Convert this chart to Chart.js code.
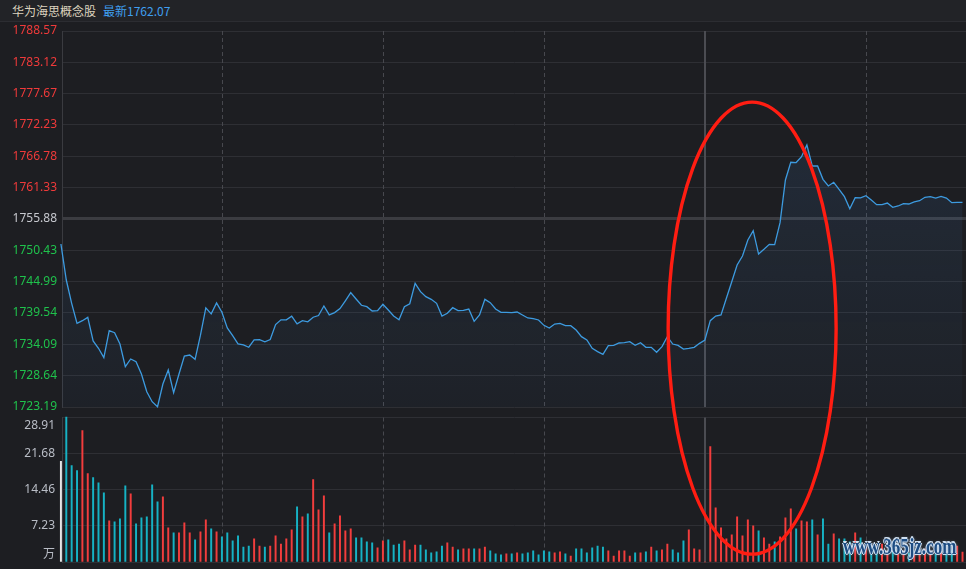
<!DOCTYPE html>
<html>
<head>
<meta charset="utf-8">
<script src="https://cdn.jsdelivr.net/npm/chart.js@4.4.0/dist/chart.umd.min.js"></script>
<style>
html,body{margin:0;padding:0;background:#1d1e22;width:966px;height:569px;overflow:hidden;}
#hdr{position:absolute;left:0;top:0;width:966px;height:21px;background:#222327;border-bottom:1px solid #2c2d32;font:12px "Noto Sans CJK SC","Noto Sans",sans-serif;line-height:22px;z-index:3;}
#hdr .t{position:absolute;left:12px;top:0;color:#ddd3bf;}
#hdr .n{position:absolute;left:103px;top:0;color:#3f9ff0;}
#pc{position:absolute;left:0;top:0;z-index:2;}
#vc{position:absolute;left:0;top:410px;z-index:1;}
#wm{position:absolute;left:843px;top:541px;z-index:4;font:bold 17px "Liberation Serif",serif;line-height:17px;color:#1d4c82;
  transform:scaleY(1.4);transform-origin:0 100%;white-space:nowrap;
  text-shadow:1px 0 0 #cfe0f2,-1px 0 0 #cfe0f2,0 1px 0 #cfe0f2,0 -1px 0 #cfe0f2,0 0 3px #b8d2ec;}
</style>
</head>
<body>
<div id="hdr"><span class="t">华为海思概念股</span><span class="n">最新1762.07</span></div>
<canvas id="vc" width="966" height="159"></canvas>
<canvas id="pc" width="966" height="569"></canvas>
<div id="wm">www.365jz.com</div>
<script>
// ---- data (one entry per minute from 9:30) ----
const preClose = 1755.88;
const priceTicks = [1788.57,1783.12,1777.67,1772.23,1766.78,1761.33,1755.88,1750.43,1744.99,1739.54,1734.09,1728.64,1723.19];
const volTicks = [0,7.23,14.46,21.68,28.91];
const volTickLabels = ['万','7.23','14.46','21.68','28.91'];
const minuteGrid = [30,60,90,150];
const middayMinute = 120;

const prices = [
1751.53,1745.27,1741.22,1737.74,1738.20,1738.78,1734.67,1733.40,1731.77,1736.46,
1736.11,1734.14,1730.20,1731.54,1731.07,1728.93,1725.85,1724.11,1723.24,1727.19,
1729.63,1725.68,1728.93,1732.06,1732.23,1731.48,1735.68,1740.42,1739.38,1741.29,
1739.66,1736.94,1735.60,1734.17,1733.99,1733.58,1734.86,1734.92,1734.52,1734.92,
1737.53,1738.34,1738.34,1738.97,1737.65,1738.20,1738.00,1738.80,1739.10,1740.75,
1739.20,1739.60,1740.30,1741.66,1743.07,1741.97,1740.88,1740.63,1739.88,1739.94,
1741.05,1740.06,1739.01,1738.37,1740.63,1741.15,1744.69,1743.24,1742.37,1741.91,
1741.22,1739.01,1739.48,1740.46,1739.94,1740.00,1740.23,1738.09,1739.19,1741.91,
1741.33,1740.23,1739.65,1739.65,1739.59,1739.71,1739.19,1738.67,1738.55,1738.32,
1737.39,1736.93,1737.62,1737.74,1737.33,1737.33,1736.58,1735.42,1734.84,1733.39,
1732.81,1732.35,1733.85,1733.91,1734.32,1734.37,1734.55,1733.91,1734.37,1733.57,
1733.57,1732.70,1733.68,1735.42,1734.14,1733.91,1733.27,1733.39,1733.57,1734.26,
1734.84,1738.20,1739.01,1739.19,1742.09,1744.98,1747.88,1749.44,1752.23,1753.85,
1749.79,1750.61,1751.48,1751.42,1755.24,1762.66,1765.74,1765.70,1766.71,1768.75,
1765.10,1765.10,1762.78,1761.62,1762.26,1761.04,1759.76,1757.67,1759.58,1759.55,
1759.93,1759.18,1758.37,1758.37,1758.66,1757.91,1758.14,1758.54,1758.49,1758.84,
1759.06,1759.65,1759.76,1759.53,1759.82,1759.53,1758.72,1758.78,1758.78
];

const volumes = [
20.15,29.00,19.28,18.27,26.30,17.67,16.87,15.86,13.86,8.23,
8.03,8.63,15.26,13.65,7.63,8.84,9.04,15.46,12.05,13.05,
6.83,5.82,5.82,7.83,5.82,4.42,6.02,8.43,6.63,6.02,
5.02,5.82,4.22,5.22,3.01,3.21,4.62,3.21,3.01,3.21,
5.22,3.61,4.62,6.43,11.04,9.04,9.64,16.47,10.44,13.25,
5.82,7.63,9.24,6.22,6.63,4.82,4.82,4.02,3.82,2.81,
4.22,4.42,3.41,3.61,4.22,2.41,3.41,3.41,2.41,1.81,
2.01,3.21,3.82,3.01,2.41,2.61,2.61,2.61,2.61,3.01,
2.21,1.61,1.41,1.61,1.61,1.81,1.61,1.81,2.21,1.41,
2.21,2.01,1.81,2.01,1.61,1.20,2.61,2.61,1.81,2.81,
3.21,3.01,2.21,1.20,2.21,2.21,1.20,1.81,1.81,2.01,
3.01,2.21,2.41,3.61,2.41,1.81,4.22,6.43,2.61,2.41,
0,23.09,10.84,6.83,4.62,5.42,9.04,5.22,8.43,7.23,
6.22,4.82,3.61,4.02,5.02,8.84,10.64,6.63,8.23,8.03,
8.43,5.42,8.63,3.61,5.62,4.62,4.62,4.02,5.82,4.82,
3.00,2.40,2.80,3.60,2.20,2.60,2.00,2.20,1.80,2.00,
2.20,2.60,1.80,1.60,2.00,1.80,2.40,3.20,2.00
];

// annotation ellipse (in data units)
const ring = {x:128.8, y:1736.9, rx:15.65, ry:39.3};

// ---- styles ----
const C = {
  up:'#f23d3d', down:'#16b2c4', flat:'#e6e6e6',
  grid:'#2e2f34', mid:'#3b3c41', frame:'#3a3b40',
  vdash:'#47484e', vsolid:'#4b4c52',
  line:'#3d9be0', red:'#f03a3a', green:'#1fc24c', grey:'#c6c8ce', volLbl:'#b9bdc6'
};
const XMIN = 0.2, XMAX = 168.65;

const barColors = volumes.map((v,i)=> i===0 ? C.flat : (prices[i] >= prices[i-1] ? C.up : C.down));

const vGridPlugin = {
  id:'vgrid',
  beforeDatasetsDraw(chart){
    const {ctx, chartArea:a, scales:{x}} = chart;
    ctx.save();
    ctx.lineWidth = 1;
    ctx.strokeStyle = C.vdash;
    ctx.setLineDash([4,3]);
    minuteGrid.forEach(m=>{
      const px = Math.round(x.getPixelForValue(m)) + 0.5;
      ctx.beginPath(); ctx.moveTo(px,a.top); ctx.lineTo(px,a.bottom); ctx.stroke();
    });
    ctx.setLineDash([]);
    ctx.strokeStyle = C.vsolid;
    ctx.lineWidth = 2;
    const pm = Math.round(x.getPixelForValue(middayMinute));
    ctx.beginPath(); ctx.moveTo(pm,a.top); ctx.lineTo(pm,a.bottom); ctx.stroke();
    ctx.restore();
  }
};

const ringPlugin = {
  id:'ring',
  afterDraw(chart){
    const {ctx, scales:{x,y}} = chart;
    const cx = x.getPixelForValue(ring.x), cy = y.getPixelForValue(ring.y);
    const rx = x.getPixelForValue(ring.x + ring.rx) - cx;
    const ry = y.getPixelForValue(ring.y - ring.ry) - cy;
    ctx.save();
    ctx.strokeStyle = '#ff1d12';
    ctx.lineWidth = 3.4;
    ctx.beginPath();
    ctx.ellipse(cx, cy, rx, ry, 0, 0, Math.PI*2);
    ctx.stroke();
    ctx.restore();
  }
};

const volLabelPlugin = {
  id:'vlabels',
  afterDraw(chart){
    const {ctx, chartArea:a, scales:{y}} = chart;
    ctx.save();
    ctx.fillStyle = C.volLbl;
    ctx.font = '12px "Noto Sans","Noto Sans CJK SC",sans-serif';
    ctx.textAlign = 'right';
    ctx.textBaseline = 'middle';
    volTicks.forEach((v,i)=>{
      let py = y.getPixelForValue(v);
      py = Math.min(Math.max(py, a.top + 8), a.bottom - 7);
      ctx.fillText(volTickLabels[i], 55, py);
    });
    ctx.restore();
  }
};

Chart.defaults.font.family = '"Noto Sans","Noto Sans CJK SC",sans-serif';

new Chart(document.getElementById('vc'), {
  type:'bar',
  data:{datasets:[{
    data: volumes.map((v,i)=>({x:i,y:v})),
    backgroundColor: barColors,
    borderWidth:0,
    barThickness:1.3,
    clip:3
  }]},
  options:{
    responsive:false, animation:false, events:[],
    layout:{padding:{top:7.5,bottom:7,left:0,right:0}},
    plugins:{legend:{display:false},tooltip:{enabled:false}},
    scales:{
      x:{type:'linear',min:XMIN,max:XMAX,display:false,offset:false,grid:{offset:false}},
      y:{min:0,max:28.91,
        afterFit(s){s.width=62;},
        afterBuildTicks(s){s.ticks = volTicks.map(v=>({value:v}));},
        ticks:{display:false},
        grid:{color:C.grid,drawTicks:false},
        border:{display:true,color:C.frame,width:1}
      }
    }
  },
  plugins:[vGridPlugin, volLabelPlugin]
});

new Chart(document.getElementById('pc'), {
  type:'line',
  data:{datasets:[{
    data: prices.map((p,i)=>({x:i,y:p})),
    borderColor:C.line,
    borderWidth:1.3,
    pointRadius:0,
    tension:0,
    fill:'start',
    clip:3,
    backgroundColor:(c)=>{
      const a = c.chart.chartArea;
      if(!a) return 'rgba(0,0,0,0)';
      const g = c.chart.ctx.createLinearGradient(0,a.top,0,a.bottom);
      g.addColorStop(0,'rgba(70,130,200,0.17)');
      g.addColorStop(1,'rgba(70,130,200,0.04)');
      return g;
    }
  }]},
  options:{
    responsive:false, animation:false, events:[],
    layout:{padding:{top:31,bottom:162,left:0,right:0}},
    plugins:{legend:{display:false},tooltip:{enabled:false}},
    scales:{
      x:{type:'linear',min:XMIN,max:XMAX,display:false},
      y:{min:1723.19,max:1788.57,
        afterFit(s){s.width=62;},
        afterBuildTicks(s){s.ticks = priceTicks.map(v=>({value:v}));},
        ticks:{
          padding:5,
          font:{size:12},
          callback:(v)=>Number(v).toFixed(2),
          color:(c)=>{
            const v = c.tick ? c.tick.value : 0;
            if (Math.abs(v-preClose) < 0.01) return C.grey;
            return v > preClose ? C.red : C.green;
          }
        },
        grid:{
          drawTicks:false,
          color:(c)=> (c.tick && Math.abs(c.tick.value-preClose)<0.01) ? C.mid : C.grid,
          lineWidth:(c)=> (c.tick && Math.abs(c.tick.value-preClose)<0.01) ? 3 : 1
        },
        border:{display:true,color:C.frame,width:1}
      }
    }
  },
  plugins:[vGridPlugin, ringPlugin]
});
</script>
</body>
</html>
